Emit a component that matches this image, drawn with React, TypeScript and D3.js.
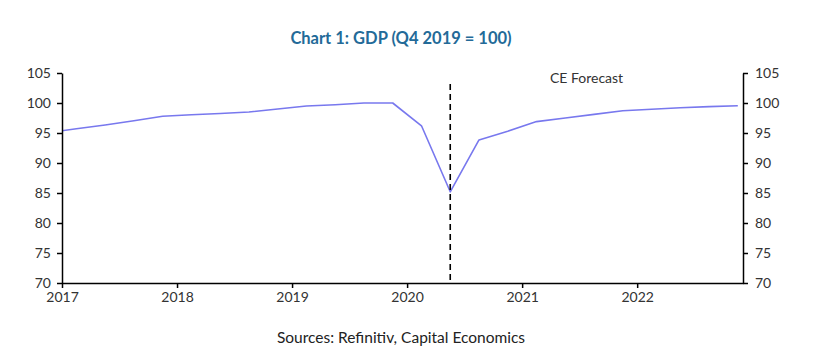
import React, { useEffect, useRef } from 'react';
import * as d3 from 'd3';

// quarterly GDP index, Q4 2019 = 100 (Q4 2016 .. Q4 2022)
const quarters = [
  '2016Q4',
  '2017Q1', '2017Q2', '2017Q3', '2017Q4',
  '2018Q1', '2018Q2', '2018Q3', '2018Q4',
  '2019Q1', '2019Q2', '2019Q3', '2019Q4',
  '2020Q1', '2020Q2', '2020Q3', '2020Q4',
  '2021Q1', '2021Q2', '2021Q3', '2021Q4',
  '2022Q1', '2022Q2', '2022Q3', '2022Q4',
];
const gdp = [
  95.05,
  95.7, 96.33, 97.05, 97.78,
  98.05, 98.25, 98.5, 99.0,
  99.5, 99.7, 100.0, 100.0,
  96.2, 85.2, 93.85, 95.3,
  96.9, 97.5, 98.1, 98.7,
  98.95, 99.2, 99.4, 99.55,
];
const yearTicks = [2017, 2018, 2019, 2020, 2021, 2022];
const valueTicks = [70, 75, 80, 85, 90, 95, 100, 105];
const forecastStart = '2020Q2';

const FONT = 'Lato, "Open Sans", sans-serif';

// quarter mid-point as a fractional year
const qPos = (q: string) => +q.slice(0, 4) + (+q.slice(5) - 0.5) / 4;

const App = () => {
  const ref = useRef<SVGSVGElement | null>(null);

  useEffect(() => {
    const width = 840, height = 360;
    const margin = { top: 73, right: 97, bottom: 77, left: 62 };
    const innerW = width - margin.left - margin.right;
    const innerH = height - margin.top - margin.bottom;

    const svg = d3.select(ref.current);
    svg.selectAll('*').remove();

    const x = d3.scaleLinear().domain([2017, 2022.92]).range([0, innerW]);
    const y = d3.scaleLinear().domain([70, 105]).range([innerH, 0]);

    svg.append('text')
      .attr('x', 401)
      .attr('y', 44)
      .attr('text-anchor', 'middle')
      .style('font-family', FONT)
      .style('font-weight', 'bold')
      .style('font-size', '16.5px')
      .style('fill', '#236a98')
      .text('Chart 1: GDP (Q4 2019 = 100)');

    const g = svg.append('g')
      .attr('transform', `translate(${margin.left},${margin.top})`);

    g.append('clipPath').attr('id', 'plot-clip')
      .append('rect').attr('width', innerW).attr('height', innerH);

    const line = d3.line<number>()
      .x((d, i) => x(qPos(quarters[i])))
      .y(d => y(d));

    g.append('path')
      .datum(gdp)
      .attr('clip-path', 'url(#plot-clip)')
      .attr('fill', 'none')
      .attr('stroke', '#7878ee')
      .attr('stroke-width', 1.6)
      .attr('stroke-linejoin', 'round')
      .attr('d', line);

    // forecast divider
    const fx = x(qPos(forecastStart));
    g.append('line')
      .attr('x1', fx).attr('x2', fx)
      .attr('y1', y(105) + 11).attr('y2', innerH)
      .attr('stroke', '#000')
      .attr('stroke-width', 1.6)
      .attr('stroke-dasharray', '6,4');

    g.append('text')
      .attr('x', x(2021.56))
      .attr('y', y(105) + 10)
      .attr('text-anchor', 'middle')
      .style('font-family', FONT)
      .style('font-size', '14px')
      .style('fill', '#333')
      .text('CE Forecast');

    const styleAxis = (sel: any) => {
      sel.select('.domain').attr('stroke', '#000').attr('stroke-width', 1.5);
      sel.selectAll('.tick line').attr('stroke', '#000').attr('stroke-width', 1.5);
      sel.selectAll('.tick text')
        .style('font-family', FONT)
        .style('font-size', '14px')
        .style('fill', '#333');
    };

    g.append('g')
      .call(d3.axisLeft(y).tickValues(valueTicks).tickSize(5).tickSizeOuter(0).tickPadding(6))
      .call(styleAxis);

    g.append('g')
      .attr('transform', `translate(${innerW},0)`)
      .call(d3.axisRight(y).tickValues(valueTicks).tickSize(5).tickSizeOuter(0).tickPadding(7))
      .call(styleAxis);

    g.append('g')
      .attr('transform', `translate(0,${innerH})`)
      .call(d3.axisBottom(x).tickValues(yearTicks).tickFormat(d3.format('d')).tickSize(5).tickSizeOuter(0).tickPadding(4))
      .call(styleAxis);

    svg.append('text')
      .attr('x', 401)
      .attr('y', 343)
      .attr('text-anchor', 'middle')
      .style('font-family', FONT)
      .style('font-size', '15.5px')
      .style('fill', '#222')
      .text('Sources: Refinitiv, Capital Economics');
  }, []);

  return (
    <svg
      ref={ref}
      width={840}
      height={360}
      style={{ position: 'absolute', left: 0, top: 0, background: '#fff' }}
    />
  );
};

export default App;
